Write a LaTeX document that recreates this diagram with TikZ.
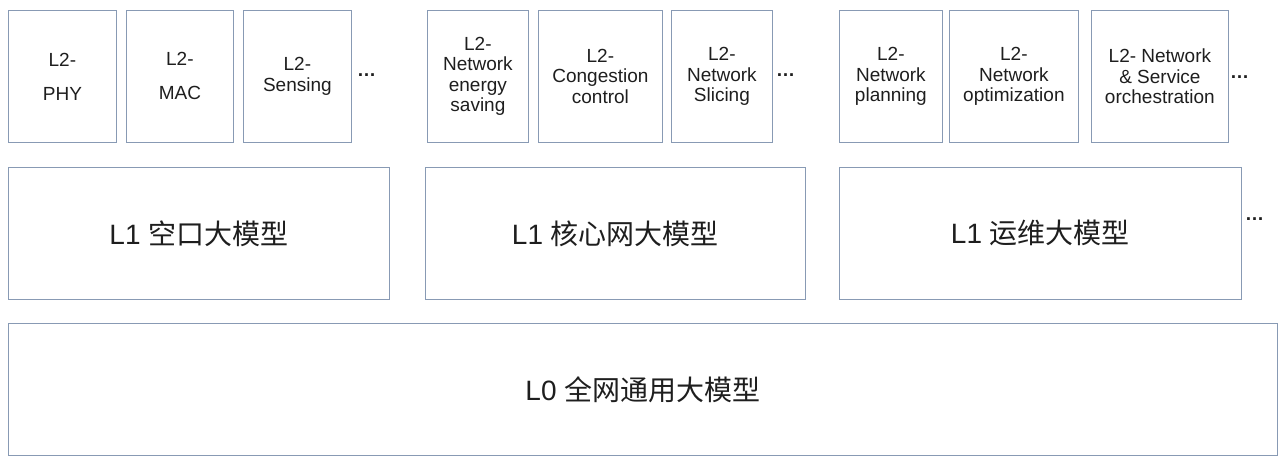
\documentclass[tikz,border=0pt]{standalone}
\usepackage{fontspec}
\setmainfont{Liberation Sans}
\newfontfamily\cjk{Noto Sans CJK SC}
\definecolor{bordercol}{RGB}{136,154,180}
\definecolor{txtcol}{RGB}{30,30,30}
\begin{document}
\begin{tikzpicture}[x=1pt,y=-1pt,
  bx/.style={draw=bordercol, line width=0.8pt, anchor=north west, inner sep=0pt,
    align=center, text=txtcol, minimum height=132pt},
  ltwo/.style={bx, font=\fontsize{19}{20.5}\selectfont},
  ltwowide/.style={bx, font=\fontsize{19}{34}\selectfont},
  lone/.style={bx, font=\fontsize{28}{32}\selectfont},
  dotsnode/.style={anchor=base west, inner sep=0pt, text=txtcol, font=\fontsize{19}{21}\selectfont\bfseries}
]
\useasboundingbox (0,0) rectangle (1278,459);
% L2 boxes
\node[ltwowide, minimum width=108pt] (phy) at (8,10) {L2-\\PHY};
\node[ltwowide, minimum width=107pt] (mac) at (126,10) {L2-\\MAC};
\node[ltwo, minimum width=108pt] (sens) at (243,10) {L2-\\Sensing};
\node[dotsnode] (d1) at (357,76) {…};
\node[ltwo, minimum width=101pt] (nes) at (427,10) {L2-\\Network\\energy\\saving};
\node[ltwo, minimum width=124pt] (cong) at (538,10) {L2-\\Congestion\\control};
\node[ltwo, minimum width=101pt] (slic) at (671,10) {L2-\\Network\\Slicing};
\node[dotsnode] (d2) at (776,76) {…};
\node[ltwo, minimum width=103pt] (plan) at (839,10) {L2-\\Network\\planning};
\node[ltwo, minimum width=129pt] (opt) at (949,10) {L2-\\Network\\optimization};
\node[ltwo, minimum width=137pt] (orch) at (1091,10) {L2- Network\\\& Service\\orchestration};
\node[dotsnode] (d3) at (1230,78) {…};
% L1 boxes
\node[lone, minimum width=381pt] (air) at (8,167) {L1 {\cjk 空口大模型}};
\node[lone, minimum width=380pt] (core) at (425,167) {L1 {\cjk 核心网大模型}};
\node[lone, minimum width=402pt] (om) at (839,167) {L1 {\cjk 运维大模型}};
\node[dotsnode] (d4) at (1245,220) {…};
% L0 box
\node[lone, minimum width=1269pt] (gen) at (8,323) {L0 {\cjk 全网通用大模型}};
\end{tikzpicture}
\end{document}
